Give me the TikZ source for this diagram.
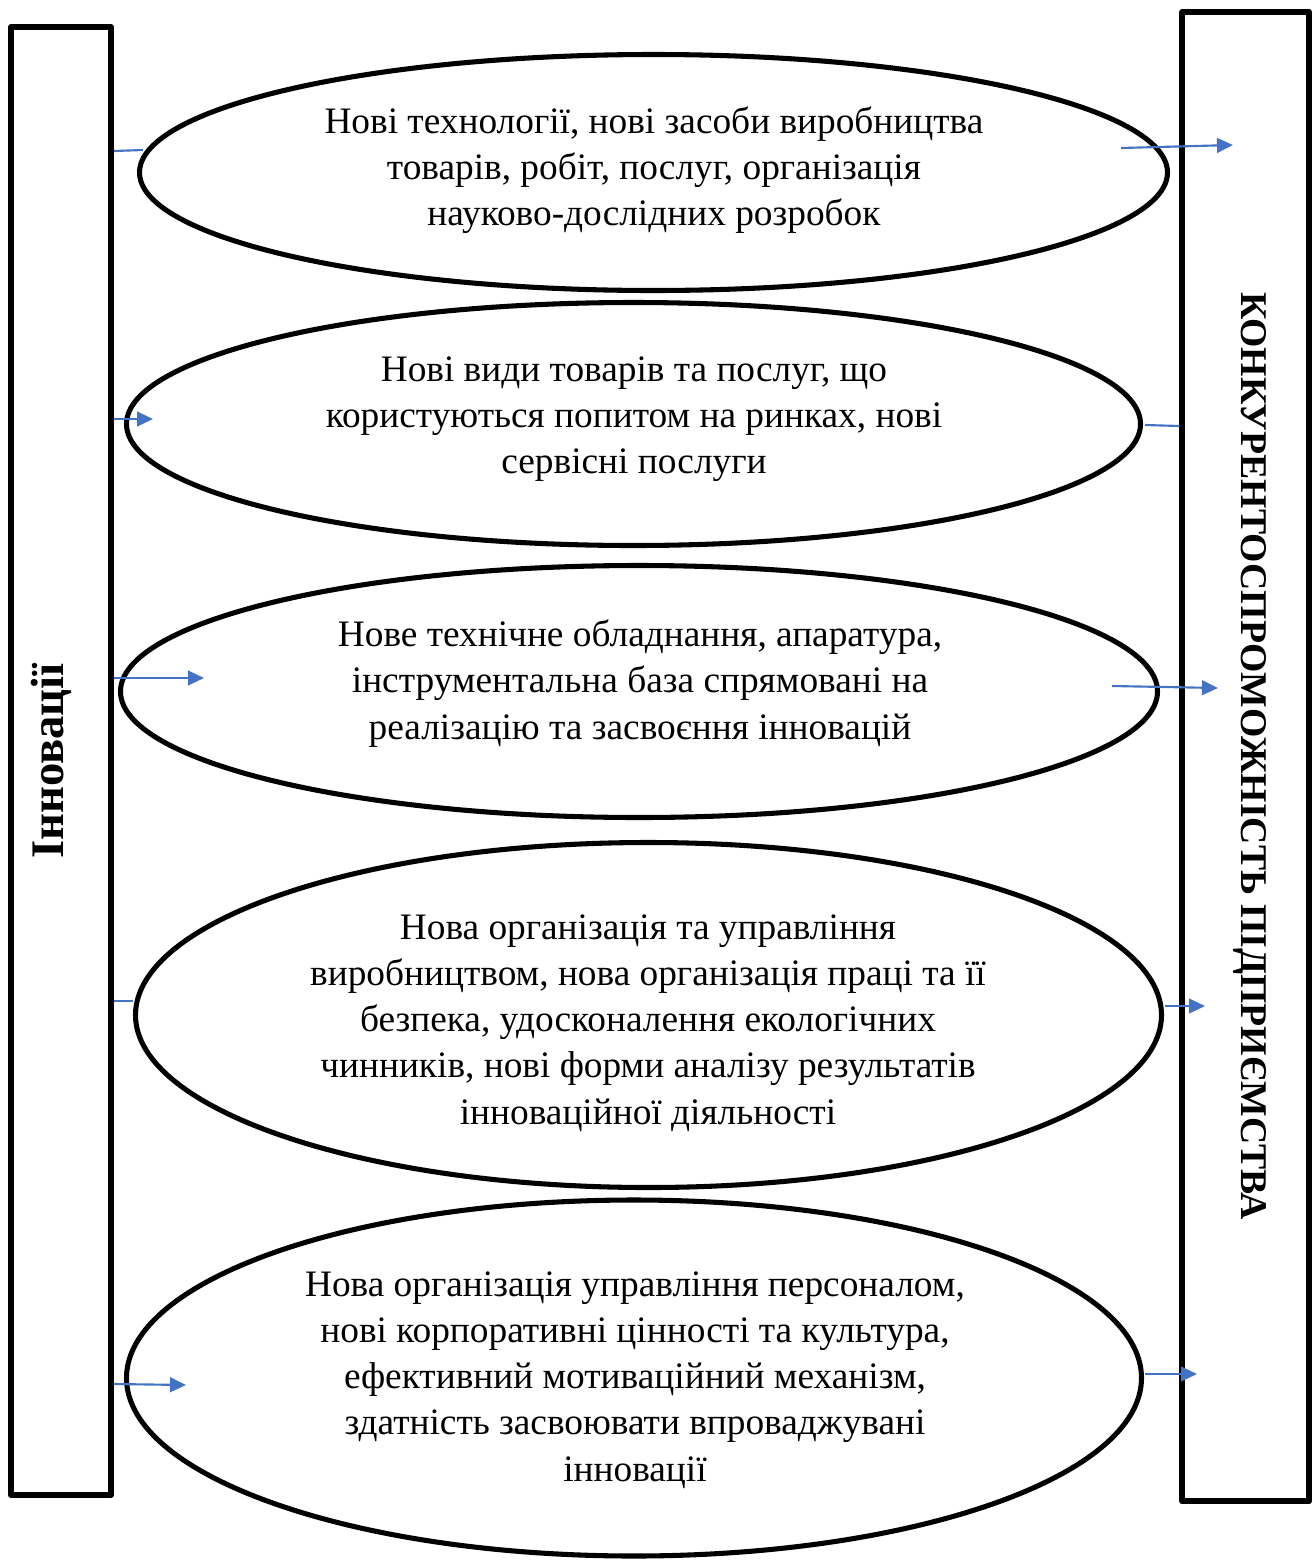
\documentclass[tikz,border=0pt]{standalone}
\usepackage{fontspec}
\setmainfont{Liberation Serif}
\usetikzlibrary{shapes.geometric,arrows.meta}
\definecolor{arrblue}{HTML}{4472C4}
\begin{document}
\begin{tikzpicture}[x=0.75pt,y=-0.75pt,
  frame/.style={draw=black,line width=4.5pt,line join=round,rectangle,inner sep=0pt},
  ell/.style={draw=black,line width=3.8pt,ellipse,inner sep=0pt},
  etext/.style={inner sep=0pt,align=center,font=\fontsize{28}{34.6}\selectfont},
  link/.style={draw=arrblue,line width=1.6pt},
  arr/.style={link,-{Triangle[length=12pt,width=11pt]}}]
\useasboundingbox (0,0) rectangle (1316,1560);
% side boxes
\node[frame,minimum width=75pt,minimum height=1101pt] (L) at (61,761) {};
\node[frame,minimum width=94.9pt,minimum height=1117pt] (R) at (1245.75,756.75) {};
\node[inner sep=0pt,font=\fontsize{35}{40}\selectfont\bfseries,rotate=90] (Lt) at (51,761) {Інновації};
\node[inner sep=0pt,font=\fontsize{28.3}{34}\selectfont\bfseries,rotate=-90] (Rt) at (1250,756) {КОНКУРЕНТОСПРОМОЖНІСТЬ ПІДПРИЄМСТВА};
% ellipses
\node[ell,minimum width=771pt,minimum height=177pt] (e1) at (653.5,172.5) {};
\node[ell,minimum width=760.5pt,minimum height=182.25pt] (e2) at (633.5,424) {};
\node[ell,minimum width=777.75pt,minimum height=189pt] (e3) at (639,691.5) {};
\node[ell,minimum width=769.5pt,minimum height=258.75pt] (e4) at (648.5,1015) {};
\node[ell,minimum width=761.25pt,minimum height=267pt] (e5) at (634,1378) {};
% texts
\node[etext] (t1) at (654,170.5)
  {Нові технології, нові засоби виробництва\\товарів, робіт, послуг, організація\\науково-дослідних розробок};
\node[etext] (t2) at (634,419.5)
  {Нові види товарів та послуг, що\\користуються попитом на ринках, нові\\сервісні послуги};
\node[etext] (t3) at (640,683.5)
  {Нове технічне обладнання, апаратура,\\інструментальна база спрямовані на\\реалізацію та засвоєння інновацій};
\node[etext] (t4) at (648,1023)
  {Нова організація та управління\\виробництвом, нова організація праці та її\\безпека, удосконалення екологічних\\чинників, нові форми аналізу результатів\\інноваційної діяльності};
\node[etext] (t5) at (635,1380)
  {Нова організація управління персоналом,\\нові корпоративні цінності та культура,\\ефективний мотиваційний механізм,\\здатність засвоювати впроваджувані\\інновації};
% connectors
\coordinate (c1l) at (143,150);
\coordinate (c1a) at (1121,148);
\coordinate (c1b) at (1233,145);
\coordinate (c2l) at (153,419);
\coordinate (c2r) at (1145,425);
\coordinate (c3l) at (204,678);
\coordinate (c3a) at (1112,686);
\coordinate (c3b) at (1218,688);
\coordinate (c4l) at (133,1001);
\coordinate (c4a) at (1165,1006);
\coordinate (c4b) at (1205,1006);
\coordinate (c5l) at (186,1385);
\coordinate (c5a) at (1145,1374);
\coordinate (c5b) at (1197,1374);
\draw[link] (L.east |- 0,151) -- (c1l);
\draw[arr] (c1a) -- (c1b);
\draw[arr] (L.east |- 0,419) -- (c2l);
\draw[link] (c2r) -- (R.west |- 0,426);
\draw[arr] (L.east |- 0,678) -- (c3l);
\draw[arr] (c3a) -- (c3b);
\draw[link] (L.east |- 0,1001) -- (c4l);
\draw[arr] (c4a) -- (c4b);
\draw[arr] (L.east |- 0,1384) -- (c5l);
\draw[arr] (c5a) -- (c5b);
\end{tikzpicture}
\end{document}
